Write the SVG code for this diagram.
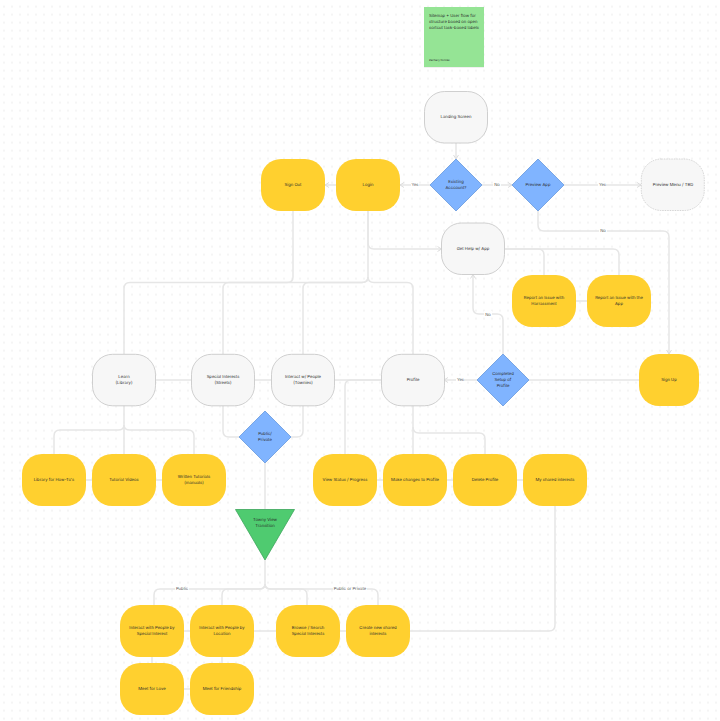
<svg xmlns="http://www.w3.org/2000/svg" width="720" height="721" viewBox="0 0 720 721">
<style>
text{font-family:Inter,"Liberation Sans",sans-serif;font-size:4.200px;fill:#2b2b2b;text-anchor:middle;text-rendering:geometricPrecision}
.c{fill:none;stroke:#e6e6e6;stroke-width:1.5;stroke-linejoin:round}
.y{fill:#ffd02f}
.g{fill:#f7f7f7;stroke:#c4c4c4;stroke-width:.8}
.d{fill:#f7f7f7;stroke:#c4c4c4;stroke-width:.7;stroke-dasharray:1.5 1}
.b{fill:#80b4ff;stroke:#5a8fd8;stroke-width:.7}
.l{fill:#555}
.lb{fill:#fff}
</style>
<defs>
<pattern id="dots" width="8" height="8" patternUnits="userSpaceOnUse" patternTransform="translate(0,2.6)"><rect x="3.2" y="3.2" width="1.6" height="1.6" fill="#f0f0f0"/></pattern>
<marker id="a" markerWidth="6" markerHeight="6" refX="5" refY="3" orient="auto" markerUnits="userSpaceOnUse"><path d="M1 .5L5 3L1 5.500" fill="none" stroke="#dcdcdc" stroke-width="1"/></marker>
<rect id="n" width="64" height="52" rx="20" ry="20"/>
<rect id="m" width="63" height="51.500" rx="20" ry="20"/>
</defs>
<rect width="720" height="721" fill="#fff"/>
<rect width="720" height="721" fill="url(#dots)"/>
<g id="connectors">
<path class="c" marker-end="url(#a)" d="M456 143V159"/>
<path class="c" marker-end="url(#a)" d="M430 185H400"/>
<path class="c" marker-end="url(#a)" d="M336 185H325"/>
<path class="c" marker-end="url(#a)" d="M482 185H512"/>
<path class="c" marker-end="url(#a)" d="M564 185H641"/>
<path class="c" marker-end="url(#a)" d="M538 211V225Q538 231 544 231H663Q669 231 669 237V354"/>
<path class="c" d="M293 211V277Q293 282.500 287 282.500H130Q124 282.500 124 288.500V354"/>
<path class="c" d="M368 211V277Q368 282.500 362 282.500H229Q223 282.500 223 288.500V354"/>
<path class="c" d="M368 277Q368 282.500 362 282.500H309Q303 282.500 303 288.500V354"/>
<path class="c" d="M368 277Q368 282.500 374 282.500H407Q413 282.500 413 288.500V354"/>
<path class="c" marker-end="url(#a)" d="M368 211V243Q368 249 374 249H441.500"/>
<path class="c" d="M505 249H538Q544 249 544 255V275"/>
<path class="c" d="M505 249H613Q619 249 619 255V275"/>
<path class="c" d="M576 301H587"/>
<path class="c" marker-end="url(#a)" d="M503 354V320Q503 314 497 314H479Q473 314 473 308V274.500"/>
<path class="c" d="M639 380H529"/>
<path class="c" marker-end="url(#a)" d="M477 380H444"/>
<path class="c" d="M381 380H334"/>
<path class="c" d="M381 380H351Q345 380 345 386V454"/>
<path class="c" d="M413 405V454"/>
<path class="c" d="M413 427Q413 433 419 433H479Q485 433 485 439V454"/>
<path class="c" d="M156 380H191M254 380H271"/>
<path class="c" d="M124 405V454"/>
<path class="c" d="M124 425Q124 430 118 430H60Q54 430 54 436V454"/>
<path class="c" d="M124 425Q124 430 130 430H188Q194 430 194 436V454"/>
<path class="c" d="M86 480H92M156 480H162"/>
<path class="c" d="M223 405V431Q223 437 229 437H239"/>
<path class="c" d="M303 405V431Q303 437 297 437H291"/>
<path class="c" d="M265 463V509"/>
<path class="c" d="M265 560V584Q265 589 259 589H160Q154 589 154 595V605"/>
<path class="c" d="M265 584Q265 589 259 589H228Q222 589 222 595V605"/>
<path class="c" d="M265 584Q265 589 271 589H301Q307 589 307 595V605"/>
<path class="c" d="M265 584Q265 589 271 589H372Q378 589 378 595V605"/>
<path class="c" d="M184 631H190M254 631H276M340 631H346"/>
<path class="c" d="M410 631H549Q555 631 555 625V506"/>
<path class="c" d="M152 657V663M222 657V663M184 689H190"/>
<path class="c" d="M377 480H383M447 480H453M517 480H523"/>
<g id="connector-labels">
<rect class="lb" x="411" y="182" width="8" height="6"/><text class="l" x="415" y="186.400">Yes</text>
<rect class="lb" x="493" y="182" width="8" height="6"/><text class="l" x="497" y="186.400">No</text>
<rect class="lb" x="598" y="182" width="8" height="6"/><text class="l" x="602.500" y="186.400">Yes</text>
<rect class="lb" x="599" y="228" width="8" height="6"/><text class="l" x="603" y="232.400">No</text>
<rect class="lb" x="484" y="311" width="8" height="6"/><text class="l" x="488" y="315.800">No</text>
<rect class="lb" x="456" y="377" width="8" height="6"/><text class="l" x="460.500" y="381.400">Yes</text>
<rect class="lb" x="175" y="586" width="14" height="6"/><text class="l" x="182" y="590.400">Public</text>
<rect class="lb" x="333" y="586" width="34" height="6"/><text class="l" x="350" y="590.400">Public or Private</text>
</g>
</g>
<g id="sticky"><rect x="424" y="8" width="60" height="60" fill="#000" opacity=".06"/><rect x="424" y="7" width="60" height="60" fill="#95e495"/><text x="429" y="16.500" style="text-anchor:start">Sitemap + User flow for</text><text x="429" y="22.500" style="text-anchor:start">structure based on open</text><text x="429" y="28.500" style="text-anchor:start">sortcut task-based labels</text><text x="429" y="61.200" style="text-anchor:start;font-size:2.800px">Zachary Nicolai</text></g>
<g id="landing"><use href="#m" class="g" x="424.500" y="91.500"/><text x="456" y="118.400">Landing Screen</text></g>
<g id="signout"><use href="#n" class="y" x="261" y="159"/><text x="293" y="186.400">Sign Out</text></g>
<g id="login"><use href="#n" class="y" x="336" y="159"/><text x="368" y="186.400">Login</text></g>
<g id="existing"><path class="b" d="M456 159L482 185L456 211L430 185Z"/><text x="456" y="183.400">Existing</text><text x="456" y="189.400">Acccount?</text></g>
<g id="preview"><path class="b" d="M538 159L564 185L538 211L512 185Z"/><text x="538" y="186.400">Preview App</text></g>
<g id="previewmenu"><use href="#m" class="d" x="641.300" y="159"/><text x="673" y="186.400">Preview Menu / TBD</text></g>
<g id="gethelp"><use href="#m" class="g" x="441.500" y="223"/><text x="473" y="250.400">Get Help w/ App</text></g>
<g id="report1"><use href="#n" class="y" x="512" y="275"/><text x="544" y="299.400">Report an Issue with</text><text x="544" y="305.400">Harrassment</text></g>
<g id="report2"><use href="#n" class="y" x="587" y="275"/><text x="619" y="299.400">Report an Issue with the</text><text x="619" y="305.400">App</text></g>
<g id="learn"><use href="#m" class="g" x="92.500" y="354.300"/><text x="124" y="378.400">Learn</text><text x="124" y="384.400">(Library)</text></g>
<g id="special"><use href="#m" class="g" x="191.500" y="354.300"/><text x="223" y="378.400">Special Interests</text><text x="223" y="384.400">(Streets)</text></g>
<g id="interact"><use href="#m" class="g" x="271.500" y="354.300"/><text x="303" y="378.400">Interact w/ People</text><text x="303" y="384.400">(Townies)</text></g>
<g id="profile"><use href="#m" class="g" x="381.500" y="354.300"/><text x="413" y="381.400">Profile</text></g>
<g id="completed"><path class="b" d="M503 354L529 380L503 406L477 380Z"/><text x="503" y="375.400">Completed</text><text x="503" y="381.400">Setup of</text><text x="503" y="387.400">Profile</text></g>
<g id="signup"><rect class="y" x="639" y="354" width="60" height="52" rx="20" ry="20"/><text x="669" y="381.400">Sign Up</text></g>
<g id="pubpriv"><path class="b" d="M265 411L291 437L265 463L239 437Z"/><text x="265" y="435.400">Public/</text><text x="265" y="441.400">Private</text></g>
<g id="library"><use href="#n" class="y" x="22" y="454"/><text x="54" y="481.400">Library for How-To's</text></g>
<g id="tutorial"><use href="#n" class="y" x="92" y="454"/><text x="124" y="481.400">Tutorial Videos</text></g>
<g id="written"><use href="#n" class="y" x="162" y="454"/><text x="194" y="478.400">Written Tutorials</text><text x="194" y="484.400">(manuals)</text></g>
<g id="status"><use href="#n" class="y" x="313" y="454"/><text x="345" y="481.400">View Status / Progress</text></g>
<g id="changes"><use href="#n" class="y" x="383" y="454"/><text x="415" y="481.400">Make changes to Profile</text></g>
<g id="delete"><use href="#n" class="y" x="453" y="454"/><text x="485" y="481.400">Delete Profile</text></g>
<g id="shared"><use href="#n" class="y" x="523" y="454"/><text x="555" y="481.400">My shared interests</text></g>
<g id="townview"><path d="M235.500 509.500H294.500L265 560Z" fill="#4fcb70" stroke="#3ba45a" stroke-width=".8" stroke-linejoin="round"/><text x="265" y="521.400">Towny View</text><text x="265" y="527.400">Transition</text></g>
<g id="bysi"><use href="#n" class="y" x="120" y="605"/><text x="152" y="629.400">Interact with People by</text><text x="152" y="635.400">Special Interest</text></g>
<g id="byloc"><use href="#n" class="y" x="190" y="605"/><text x="222" y="629.400">Interact with People by</text><text x="222" y="635.400">Location</text></g>
<g id="browse"><use href="#n" class="y" x="276" y="605"/><text x="308" y="629.400">Browse / Search</text><text x="308" y="635.400">Special Interests</text></g>
<g id="create"><use href="#n" class="y" x="346" y="605"/><text x="378" y="629.400">Create new shared</text><text x="378" y="635.400">interests</text></g>
<g id="love"><use href="#n" class="y" x="120" y="663"/><text x="152" y="690.400">Meet for Love</text></g>
<g id="friend"><use href="#n" class="y" x="190" y="663"/><text x="222" y="690.400">Meet for Friendship</text></g>
</svg>
